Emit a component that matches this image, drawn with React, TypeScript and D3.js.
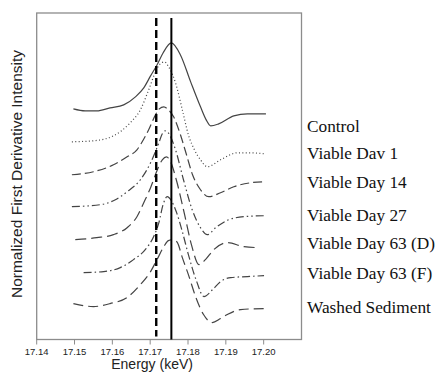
import * as d3 from "d3";

// First-derivative XANES spectra (energy keV, offset intensity)
const energyTicks = [17.14, 17.15, 17.16, 17.17, 17.18, 17.19, 17.2];

const seriesNames = [
  "Control",
  "Viable Dav 1",
  "Viable Day 14",
  "Viable Day 27",
  "Viable Day 63 (D)",
  "Viable Day 63 (F)",
  "Washed Sediment",
];

const control: [number, number][] = [
  [17.1497, 231], [17.1528, 229], [17.1559, 229], [17.1594, 232], [17.163, 235],
  [17.1661, 243], [17.1683, 252], [17.1701, 264], [17.1718, 275], [17.1734, 287],
  [17.1756, 297], [17.178, 285], [17.1807, 258], [17.1833, 233], [17.1848, 220],
  [17.186, 214], [17.1881, 216], [17.1921, 224], [17.1957, 226], [17.2006, 226],
];

const day1: [number, number][] = [
  [17.1493, 198], [17.155, 199], [17.1603, 204], [17.1647, 217], [17.1674, 230],
  [17.1696, 250], [17.1714, 268], [17.1724, 275], [17.1738, 278], [17.1749, 273],
  [17.1767, 257], [17.1785, 230], [17.1801, 205], [17.1817, 190], [17.1833, 180],
  [17.1851, 173], [17.1886, 180], [17.1931, 187], [17.1966, 187], [17.2001, 186],
];

const day14: [number, number][] = [
  [17.1493, 165], [17.155, 168], [17.1603, 175], [17.1639, 183], [17.1665, 190],
  [17.1682, 200], [17.1696, 210], [17.1714, 225], [17.1724, 231], [17.1736, 233],
  [17.1748, 230], [17.1762, 223], [17.178, 205], [17.1796, 185], [17.1812, 165],
  [17.1833, 150], [17.1855, 143], [17.1886, 147], [17.1921, 153], [17.1966, 157],
  [17.2006, 158],
];

const day27: [number, number][] = [
  [17.1493, 133], [17.1568, 135], [17.1608, 140], [17.1639, 148], [17.1674, 160],
  [17.1701, 177], [17.1723, 197], [17.1732, 206], [17.174, 209], [17.1748, 207],
  [17.1767, 190], [17.1788, 160], [17.1811, 130], [17.1833, 112], [17.1851, 105],
  [17.1873, 112], [17.1908, 120], [17.1948, 123], [17.2006, 124],
];

const day63D: [number, number][] = [
  [17.1502, 100], [17.1559, 102], [17.1603, 105], [17.1639, 112], [17.1665, 123],
  [17.1683, 137], [17.1701, 152], [17.1719, 170], [17.1732, 180], [17.1743, 183],
  [17.1754, 178], [17.1769, 160], [17.1791, 125], [17.1809, 95], [17.1829, 75],
  [17.1846, 80], [17.1868, 90], [17.1904, 97], [17.1948, 93], [17.1988, 92],
];

const day63F: [number, number][] = [
  [17.1524, 67], [17.1577, 68], [17.1621, 72], [17.1656, 80], [17.1687, 90],
  [17.1709, 103], [17.1723, 117], [17.1734, 135], [17.1745, 143], [17.1756, 139],
  [17.1769, 128], [17.1785, 108], [17.1801, 85], [17.1823, 58], [17.1842, 43],
  [17.1865, 50], [17.1886, 58], [17.1913, 62], [17.1957, 63], [17.2001, 64],
];

const washed: [number, number][] = [
  [17.1497, 36], [17.155, 33], [17.1594, 36], [17.1639, 42], [17.1674, 55],
  [17.1701, 68], [17.1718, 80], [17.1736, 93], [17.1748, 99], [17.1762, 100],
  [17.1772, 97], [17.1785, 82], [17.1801, 65], [17.182, 43], [17.1841, 25],
  [17.1864, 17], [17.1886, 21], [17.1904, 25], [17.1939, 30], [17.2001, 31],
];

// level (same units as the curves) where each name sits on the right
const labelLevels = [214, 187, 158, 125, 97, 67, 33];

const dashedLineEnergy = 17.1716;
const solidLineEnergy = 17.1756;

const allSeries = [control, day1, day14, day27, day63D, day63F, washed];
const dashes = ["none", "1,2.4", "9,4", "8,3,1.5,3,1.5,3", "11,5", "8,3,1.5,3", "10,5"];

const W = 443;
const H = 380;
const margin = { top: 13, right: 141.5, bottom: 40.5, left: 36.7 };
const sans = "'Liberation Sans', Arial, sans-serif";
const serif = "'Liberation Serif', 'Times New Roman', serif";

export default function App() {
  const x = d3
    .scaleLinear()
    .domain([17.14, 17.21])
    .range([margin.left, W - margin.right]);
  const y = d3
    .scaleLinear()
    .domain([0, 327])
    .range([H - margin.bottom, margin.top]);

  const line = d3
    .line<[number, number]>()
    .x((d) => x(d[0]))
    .y((d) => y(d[1]))
    .curve(d3.curveMonotoneX);

  const x0 = x.range()[0];
  const x1 = x.range()[1];
  const yb = y.range()[0];
  const yt = y.range()[1];

  return (
    <svg
      width={W}
      height={H}
      style={{ position: "absolute", left: 0, top: 0, background: "#fff" }}
    >
      {/* plot frame */}
      <rect
        x={x0}
        y={yt}
        width={x1 - x0}
        height={yb - yt}
        fill="none"
        stroke="#8c8c8c"
        strokeWidth={1.3}
      />

      {/* curves */}
      {allSeries.map((s, i) => (
        <path
          key={seriesNames[i]}
          d={line(s) || ""}
          fill="none"
          stroke="#444"
          strokeWidth={1.2}
          strokeDasharray={dashes[i]}
        />
      ))}

      {/* reference lines */}
      <line
        x1={x(dashedLineEnergy)}
        x2={x(dashedLineEnergy)}
        y1={y(322)}
        y2={y(3)}
        stroke="#000"
        strokeWidth={2.4}
        strokeDasharray="8,4"
      />
      <line
        x1={x(solidLineEnergy)}
        x2={x(solidLineEnergy)}
        y1={y(322)}
        y2={yb}
        stroke="#000"
        strokeWidth={2}
      />

      {/* x axis ticks */}
      {energyTicks.map((t) => (
        <g key={t}>
          <line x1={x(t)} x2={x(t)} y1={yb} y2={yb + 5} stroke="#8c8c8c" strokeWidth={1} />
          <text
            x={x(t)}
            y={yb + 15}
            textAnchor="middle"
            fontFamily={sans}
            fontSize={9.5}
            fill="#222"
          >
            {t.toFixed(2)}
          </text>
        </g>
      ))}

      <text
        x={x(17.1705)}
        y={yb + 29}
        textAnchor="middle"
        fontFamily={sans}
        fontSize={14}
        fill="#222"
      >
        Energy (keV)
      </text>

      <text
        transform="translate(21.5, 174) rotate(-90)"
        textAnchor="middle"
        fontFamily={sans}
        fontSize={15.5}
        fill="#222"
      >
        Normalized First Derivative Intensity
      </text>

      {/* series names */}
      {seriesNames.map((n, i) => (
        <text
          key={n}
          x={307}
          y={y(labelLevels[i])}
          dy="0.35em"
          fontFamily={serif}
          fontSize={17.3}
          fill="#111"
        >
          {n}
        </text>
      ))}
    </svg>
  );
}
